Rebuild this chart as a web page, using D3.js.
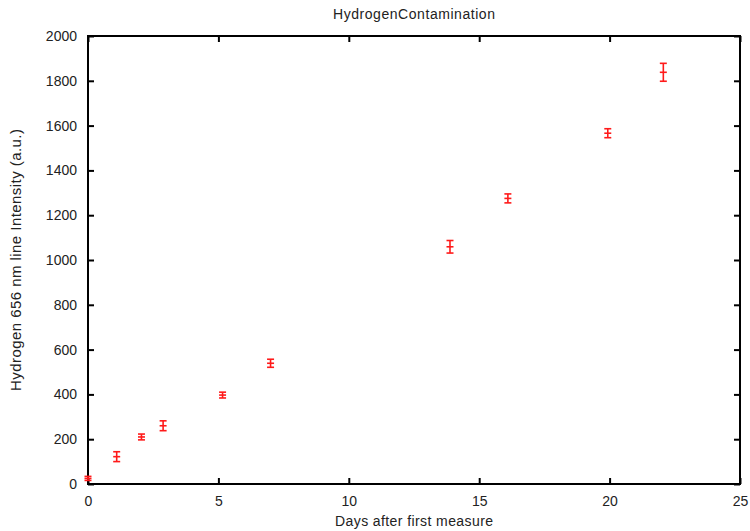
<!DOCTYPE html>
<html>
<head>
<meta charset="utf-8">
<script src="https://cdn.jsdelivr.net/npm/d3@7"></script>
<style>
  html, body { margin: 0; padding: 0; background: #fff; }
  svg { display: block; font-family: "Liberation Sans", Arial, sans-serif; }
</style>
</head>
<body>
<svg id="chart" width="750" height="531"></svg>
<script>
// Hydrogen 656 nm line intensity measured over days
const days       = [0, 1.1, 2.05, 2.88, 5.16, 7.0, 13.88, 16.1, 19.93, 22.06];
const intensity  = [25, 122, 210, 260, 397, 539, 1059, 1275, 1566, 1838];
const errors     = [9, 22, 13, 22, 13, 18, 28, 20, 20, 40];
const xTicks     = [0, 5, 10, 15, 20, 25];
const yTicks     = [0, 200, 400, 600, 800, 1000, 1200, 1400, 1600, 1800, 2000];

const titleText  = "HydrogenContamination";
const xLabelText = "Days after first measure";
const yLabelText = "Hydrogen 656 nm line Intensity (a.u.)";

const svg = d3.select("#chart");
const m = { left: 88, right: 740, top: 36, bottom: 484 };

const x = d3.scaleLinear().domain([0, 25]).range([m.left, m.right]);
const y = d3.scaleLinear().domain([0, 2000]).range([m.bottom, m.top]);

const tickLen = 6;
const axisColor = "#000";
const textColor = "#222";

// Inward ticks on all four sides (mirrored)
const bottomAxis = d3.axisBottom(x).tickValues(xTicks).tickSizeInner(-tickLen).tickSizeOuter(0).tickPadding(12).tickFormat(d3.format("d"));
const topAxis    = d3.axisTop(x).tickValues(xTicks).tickSizeInner(-tickLen).tickSizeOuter(0).tickFormat("");
const leftAxis   = d3.axisLeft(y).tickValues(yTicks).tickSizeInner(-tickLen).tickSizeOuter(0).tickPadding(11).tickFormat(d3.format("d"));
const rightAxis  = d3.axisRight(y).tickValues(yTicks).tickSizeInner(-tickLen).tickSizeOuter(0).tickFormat("");

function styleAxis(g) {
  g.select(".domain").remove();
  g.selectAll(".tick line").attr("stroke", axisColor).attr("stroke-width", 2);
  g.selectAll(".tick text").attr("fill", textColor).attr("font-size", 14)
    .attr("font-family", "'Liberation Sans', Arial, sans-serif");
}

svg.append("g").attr("transform", `translate(0,${m.bottom})`).call(bottomAxis).call(styleAxis);
svg.append("g").attr("transform", `translate(0,${m.top})`).call(topAxis).call(styleAxis);
svg.append("g").attr("transform", `translate(${m.left},0)`).call(leftAxis).call(styleAxis);
svg.append("g").attr("transform", `translate(${m.right},0)`).call(rightAxis).call(styleAxis);

// Plot frame
svg.append("rect")
  .attr("x", m.left).attr("y", m.top)
  .attr("width", m.right - m.left).attr("height", m.bottom - m.top)
  .attr("fill", "none").attr("stroke", axisColor).attr("stroke-width", 2);

// Error bars with caps and a centre mark
const capHalf = 3.5;
const red = "#ff1a1a";
const pts = days.map((d, i) => ({ x: d, y: intensity[i], e: errors[i] }));
const eb = svg.append("g").attr("stroke", red).attr("stroke-width", 1.6).attr("fill", "none");
const groups = eb.selectAll("g").data(pts).join("g");
groups.append("line")
  .attr("x1", d => x(d.x)).attr("x2", d => x(d.x))
  .attr("y1", d => y(d.y - d.e)).attr("y2", d => y(d.y + d.e));
groups.append("line")
  .attr("x1", d => x(d.x) - capHalf).attr("x2", d => x(d.x) + capHalf)
  .attr("y1", d => y(d.y + d.e)).attr("y2", d => y(d.y + d.e));
groups.append("line")
  .attr("x1", d => x(d.x) - capHalf).attr("x2", d => x(d.x) + capHalf)
  .attr("y1", d => y(d.y - d.e)).attr("y2", d => y(d.y - d.e));
groups.append("line")
  .attr("x1", d => x(d.x) - capHalf).attr("x2", d => x(d.x) + capHalf)
  .attr("y1", d => y(d.y)).attr("y2", d => y(d.y));

// Title and axis labels (slightly spaced-out lettering)
svg.append("text")
  .attr("x", (m.left + m.right) / 2).attr("y", 19)
  .attr("text-anchor", "middle").attr("font-size", 14).attr("fill", textColor)
  .attr("textLength", 162).attr("lengthAdjust", "spacing")
  .text(titleText);

svg.append("text")
  .attr("x", (m.left + m.right) / 2).attr("y", 526)
  .attr("text-anchor", "middle").attr("font-size", 14).attr("fill", textColor)
  .attr("textLength", 158).attr("lengthAdjust", "spacing")
  .text(xLabelText);

svg.append("text")
  .attr("transform", `translate(21,${(m.top + m.bottom) / 2}) rotate(-90)`)
  .attr("text-anchor", "middle").attr("font-size", 15).attr("fill", textColor)
  .attr("textLength", 262).attr("lengthAdjust", "spacing")
  .text(yLabelText);
</script>
</body>
</html>
